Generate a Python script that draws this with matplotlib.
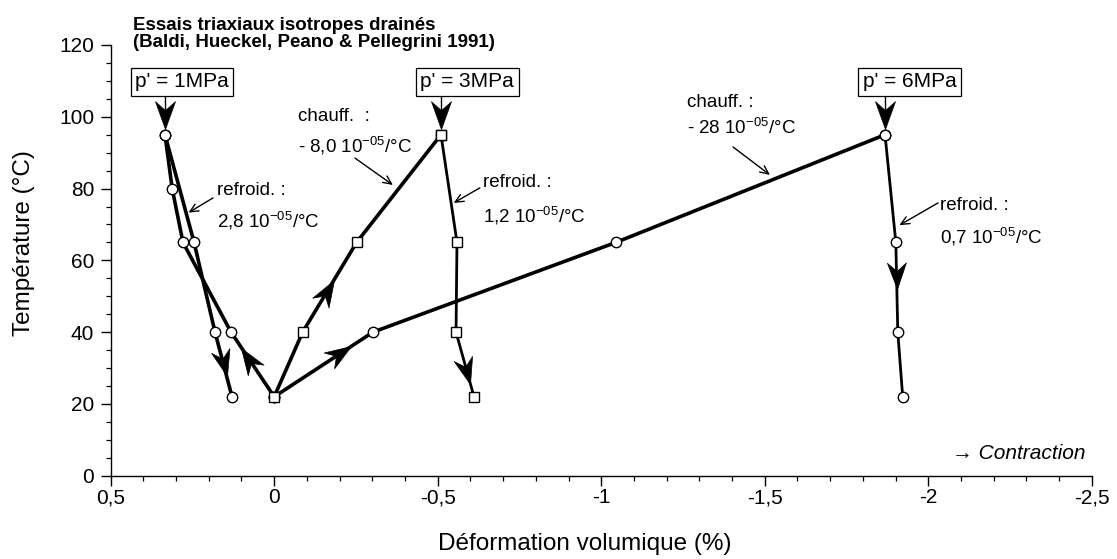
import numpy as np
import matplotlib
matplotlib.use("Agg")
import matplotlib.pyplot as plt
from matplotlib.path import Path
from matplotlib.ticker import MultipleLocator, FuncFormatter

plt.rcParams['font.family'] = ['Liberation Sans', 'DejaVu Sans']
plt.rcParams['mathtext.default'] = 'regular'
plt.rcParams['axes.unicode_minus'] = False

# p' = 1 MPa (cercles)
t_chauff_1 = [22, 40, 65, 80, 95]
ev_chauff_1 = [0.0, 0.132, 0.279, 0.312, 0.334]
t_refroid_1 = [95, 65, 40, 22]
ev_refroid_1 = [0.334, 0.245, 0.181, 0.129]

# p' = 3 MPa (carrés)
t_chauff_3 = [22, 40, 65, 95]
ev_chauff_3 = [0.0, -0.087, -0.252, -0.510]
t_refroid_3 = [95, 65, 40, 22]
ev_refroid_3 = [-0.510, -0.559, -0.556, -0.611]

# p' = 6 MPa (cercles)
t_chauff_6 = [22, 40, 65, 95]
ev_chauff_6 = [0.0, -0.302, -1.045, -1.868]
t_refroid_6 = [95, 65, 40, 22]
ev_refroid_6 = [-1.868, -1.901, -1.907, -1.922]

pressions = ["p' = 1MPa", "p' = 3MPa", "p' = 6MPa"]
coef_chauff = ["- 8,0", "- 28"]
coef_refroid = ["2,8", "1,2", "0,7"]
xticks = [0.5, 0, -0.5, -1, -1.5, -2, -2.5]
yticks = [0, 20, 40, 60, 80, 100, 120]

fig = plt.figure(figsize=(11.17, 5.59), dpi=100)
ax = fig.add_axes([110.7 / 1117, 83.3 / 559, 981 / 1117, 430.7 / 559])
ax.set_xlim(0.5, -2.5)
ax.set_ylim(0, 120)
for s in ('top', 'right'):
    ax.spines[s].set_visible(False)
for s in ('left', 'bottom'):
    ax.spines[s].set_linewidth(1.0)

ax.set_xticks(xticks)
ax.set_yticks(yticks)
ax.xaxis.set_minor_locator(MultipleLocator(0.1))
ax.yaxis.set_minor_locator(MultipleLocator(5))
ax.xaxis.set_major_formatter(FuncFormatter(lambda v, p: f"{v:g}".replace('.', ',')))
ax.tick_params(which='major', direction='out', length=7, width=1, labelsize=15)
ax.tick_params(which='minor', direction='out', length=3.5, width=0.9)
ax.tick_params(axis='x', which='major', pad=2)
ax.tick_params(axis='y', which='major', pad=5)

ax.set_xlabel("Déformation volumique (%)", fontsize=17.5)
ax.set_ylabel("Température (°C)", fontsize=17.5)
ax.xaxis.set_label_coords(0.4835, -0.133)
ax.yaxis.set_label_coords(-0.077, 0.54)

LW_C = 2.6
LW_R = 2.0

# courbes
ax.plot(ev_chauff_1, t_chauff_1, color='k', lw=LW_C, zorder=2)
ax.plot(ev_refroid_1, t_refroid_1, color='k', lw=LW_C, zorder=2)
ax.plot(ev_chauff_3, t_chauff_3, color='k', lw=LW_C, zorder=2)
ax.plot(ev_refroid_3, t_refroid_3, color='k', lw=LW_R, zorder=2)
ax.plot(ev_chauff_6, t_chauff_6, color='k', lw=LW_C, zorder=2)
ax.plot(ev_refroid_6, t_refroid_6, color='k', lw=LW_R, zorder=2)

circ = dict(marker='o', ms=7.5, mfc='white', mec='k', mew=1.0, ls='none', zorder=4)
sq = dict(marker='s', ms=6.5, mfc='white', mec='k', mew=1.0, ls='none', zorder=5)
ax.plot(ev_chauff_1, t_chauff_1, **circ)
ax.plot(ev_refroid_1, t_refroid_1, **circ)
ax.plot(ev_chauff_6, t_chauff_6, **circ)
ax.plot(ev_refroid_6, t_refroid_6, **circ)
ax.plot(ev_chauff_3, t_chauff_3, **sq)
ax.plot(ev_refroid_3, t_refroid_3, **sq)


def stealth(xa, ya, xb, yb, frac, length=19, ratio=0.36):
    """Pointe de flèche échancrée posée sur le segment a->b, pointe à frac."""
    xt = xa + frac * (xb - xa)
    yt = ya + frac * (yb - ya)
    pa = ax.transData.transform((xa, ya))
    pb = ax.transData.transform((xb, yb))
    ang = np.arctan2(pb[1] - pa[1], pb[0] - pa[0])
    base = np.array([[0, 0], [-1, ratio], [-0.68, 0], [-1, -ratio], [0, 0]])
    c, s = np.cos(ang), np.sin(ang)
    rot = base @ np.array([[c, s], [-s, c]])
    rescale = np.max(np.abs(rot))
    path = Path(rot, [Path.MOVETO, Path.LINETO, Path.LINETO, Path.LINETO, Path.CLOSEPOLY])
    ax.plot([xt], [yt], marker=path, ms=2 * length * rescale, mfc='k', mec='k',
            mew=0.5, ls='none', zorder=3)


# flèches de sens de parcours
stealth(ev_chauff_1[0], t_chauff_1[0], ev_chauff_1[1], t_chauff_1[1], 0.76)
stealth(ev_refroid_1[2], t_refroid_1[2], ev_refroid_1[3], t_refroid_1[3], 0.68)
stealth(ev_chauff_3[1], t_chauff_3[1], ev_chauff_3[2], t_chauff_3[2], 0.58)
stealth(ev_refroid_3[2], t_refroid_3[2], ev_refroid_3[3], t_refroid_3[3], 0.80)
stealth(ev_chauff_6[0], t_chauff_6[0], ev_chauff_6[1], t_chauff_6[1], 0.78)
stealth(ev_refroid_6[1], t_refroid_6[1], ev_refroid_6[2], t_refroid_6[2], 0.52)

# étiquettes de pression avec flèche vers le début du refroidissement
box_x = [0.282, -0.590, -1.944]
box_y = 109.8
peaks = [ev_refroid_1[0], ev_refroid_3[0], ev_refroid_6[0]]
for lab, bx, xp in zip(pressions, box_x, peaks):
    ax.text(bx, box_y, lab, fontsize=15, ha='center', va='center', zorder=6,
            bbox=dict(boxstyle='square,pad=0.22', fc='white', ec='k', lw=0.9))
    ax.plot([xp, xp], [105.5, 98], color='k', lw=1.0, zorder=3)
    stealth(xp, 105.5, xp, 95, 0.85, length=20)

# coefficients de dilatation
fs = 13.5
arrow_kw = dict(arrowstyle='->,head_length=0.6,head_width=0.28', lw=1.0, color='k',
                shrinkA=0, shrinkB=0)


def coef(x, y1, y2, l1, l2, xy_from, xy_to):
    ax.text(x, y1, l1, fontsize=fs, ha='left', va='center')
    ax.text(x, y2, l2, fontsize=fs, ha='left', va='center')
    ax.annotate('', xy=xy_to, xytext=xy_from, arrowprops=arrow_kw)


unit = r" 10$^{-05}$/°C"
coef(0.175, 79.6, 71.0, "refroid. :", coef_refroid[0] + unit, (0.187, 77.4), (0.262, 73.3))
coef(-0.074, 100.2, 91.9, "chauff.  :", coef_chauff[0] + unit, (-0.247, 88.5), (-0.363, 81.0))
coef(-0.638, 81.8, 72.4, "refroid. :", coef_refroid[1] + unit, (-0.629, 80.2), (-0.549, 76.0))
coef(-1.262, 104.1, 96.9, "chauff. :", coef_chauff[1] + unit, (-1.403, 91.6), (-1.516, 83.8))
coef(-2.036, 75.4, 66.5, "refroid. :", coef_refroid[2] + unit, (-2.030, 76.0), (-1.912, 69.8))

ax.text(-2.48, 6.3, "\u2192 Contraction", fontsize=15, style='italic', ha='right', va='center')

ax.text(0.432, 125.4, "Essais triaxiaux isotropes drainés", fontsize=13.5, fontweight='bold',
        ha='left', va='center', clip_on=False)
ax.text(0.432, 120.6, "(Baldi, Hueckel, Peano & Pellegrini 1991)", fontsize=13.5,
        fontweight='bold', ha='left', va='center', clip_on=False)

fig.savefig("out.png", dpi=100)
